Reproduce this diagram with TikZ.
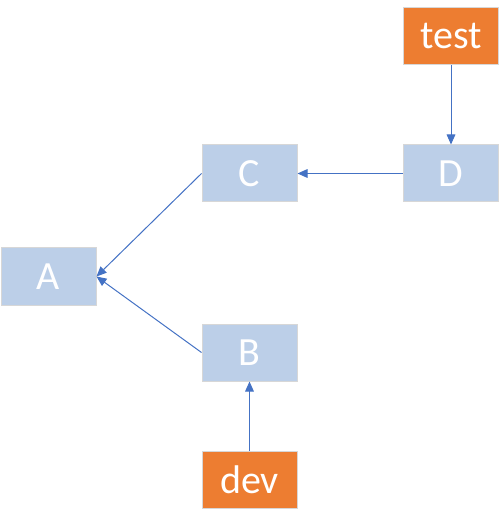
\documentclass[tikz,border=0pt]{standalone}
\usepackage{fontspec}
\setmainfont{Carlito}
\usetikzlibrary{arrows.meta}
\definecolor{boxblue}{RGB}{188,207,232}
\definecolor{boxorange}{RGB}{237,125,49}
\definecolor{linkblue}{RGB}{68,114,196}
\definecolor{rimgray}{RGB}{215,215,215}
\tikzset{
  box/.style={draw=rimgray, line width=0.75pt, minimum width=95*0.75pt, minimum height=57*0.75pt,
    inner sep=0pt, text=white, font=\fontsize{30}{32}\selectfont},
  bluebox/.style={box, fill=boxblue},
  orangebox/.style={box, fill=boxorange},
  link/.style={draw=linkblue, line width=0.75pt, -{Triangle[length=7.5pt,width=6.5pt]}, shorten >=0pt}
}
\begin{document}
\begin{tikzpicture}[x=0.75pt,y=-0.75pt]
\useasboundingbox (0,0) rectangle (503,523);
\node[orangebox] (test) at (451,36.5) {test};
\node[bluebox] (D) at (451,173.5) {D};
\node[bluebox] (C) at (249.5,173.5) {C};
\node[bluebox] (A) at (48.5,276.5) {A};
\node[bluebox] (B) at (249.5,352.5) {B};
\node[orangebox] (dev) at (249.5,479.5) {dev};
\draw[link] (test) -- (D);
\draw[link] (D) -- (C);
\draw[link] (C.west) -- (A.east);
\draw[link] (B.west) -- (A.east);
\draw[link] (dev) -- (B);
\end{tikzpicture}
\end{document}
